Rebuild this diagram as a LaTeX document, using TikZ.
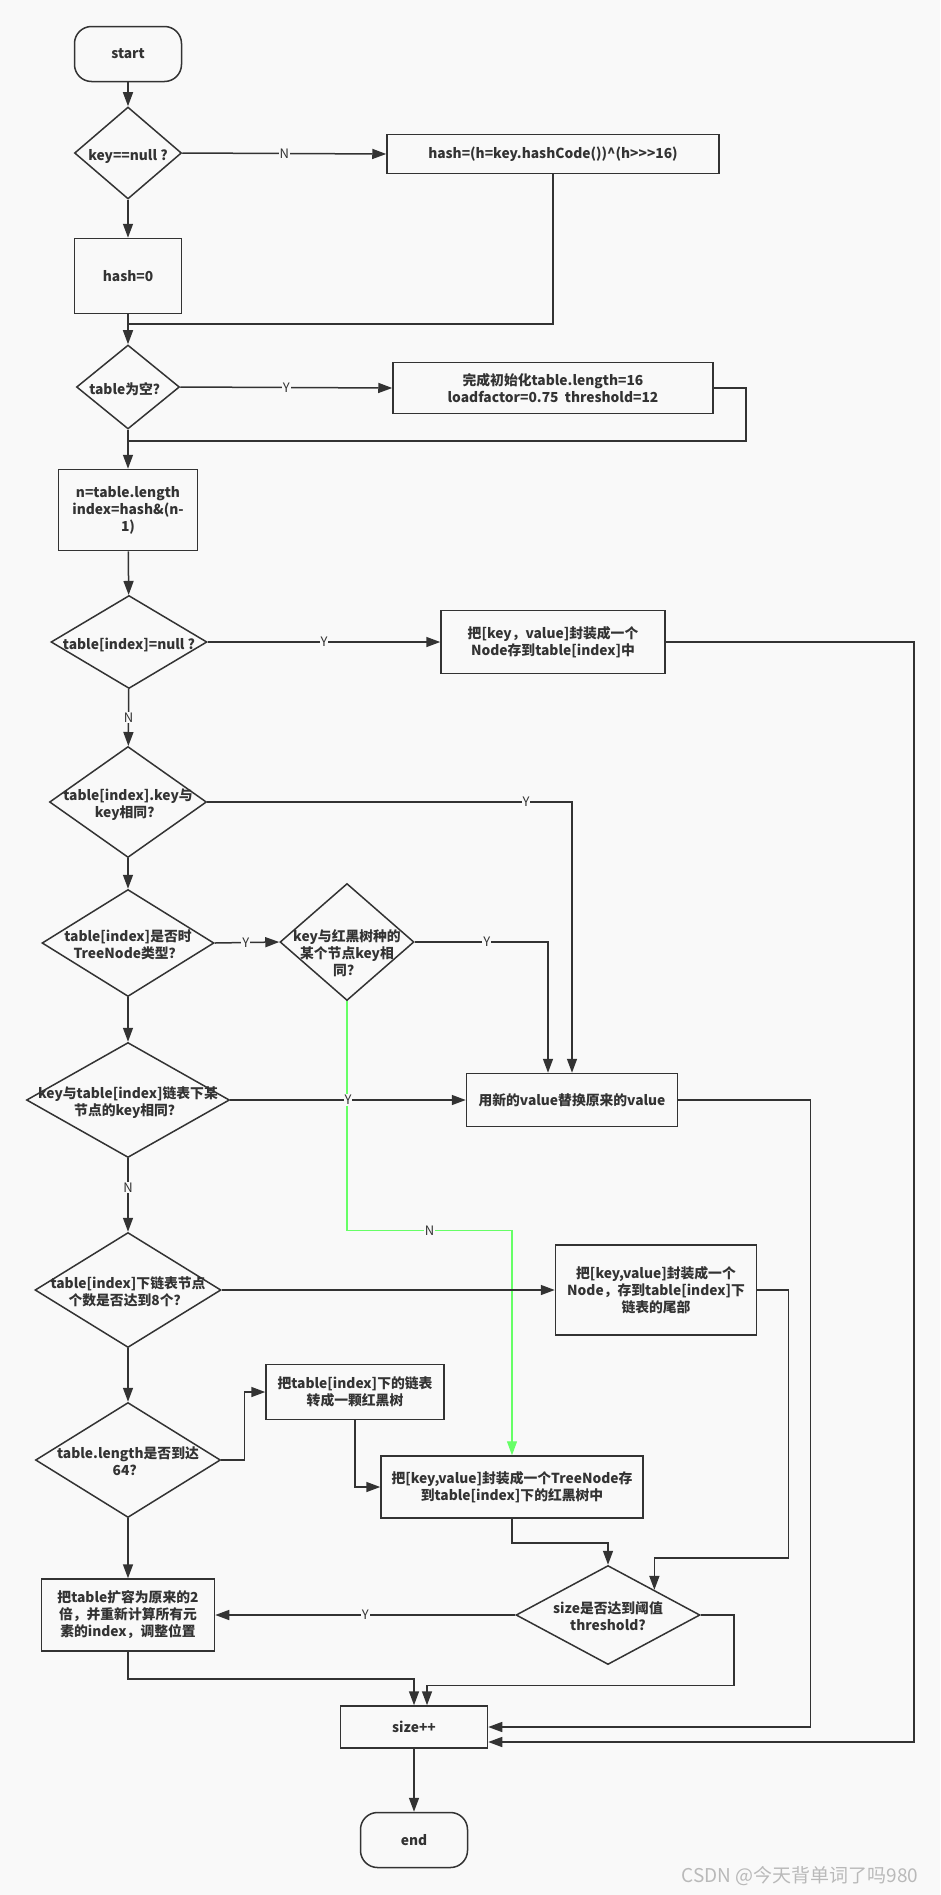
\documentclass[tikz,border=0pt]{standalone}
\usepackage{fontspec}
\setmainfont{Noto Sans CJK SC}[Ligatures=TeXOff]
\usetikzlibrary{shapes.geometric,arrows.meta}
\definecolor{bgpaper}{HTML}{F9F9F9}
\definecolor{inkline}{HTML}{333333}
\definecolor{nogreen}{HTML}{66FF66}
% text inside a diamond, kept out of the shape size
\newcommand{\dtxt}[2][0pt]{\makebox[0pt]{\raisebox{\dimexpr-0.55em-#1\relax}[0pt][0pt]{\begin{tabular}{@{}c@{}}#2\end{tabular}}}}
\begin{document}
\begin{tikzpicture}[x=1pt,y=-1pt]
\tikzstyle{every node}=[font=\fontsize{13.8}{17}\selectfont\bfseries, text=inkline]
\tikzstyle{terminal}=[draw=inkline, line width=1.5pt, rounded corners=17pt, minimum width=107pt, minimum height=55pt, inner sep=0pt]
\tikzstyle{process}=[draw=inkline, line width=1.5pt, align=center, inner sep=0pt]
\tikzstyle{decision}=[draw=inkline, line width=1.5pt, diamond, inner sep=0pt]
\tikzstyle{link}=[draw=inkline, line width=1.5pt]
\tikzstyle{flow}=[link, -{Triangle[length=14pt,width=10pt]}]
\tikzstyle{lbl}=[fill=bgpaper, inner sep=1pt, font=\fontsize{13}{15}\selectfont]
\fill [bgpaper] (0,0) rectangle (940,1895);
\useasboundingbox (0,0) rectangle (940,1895);
% left column
\node [terminal] (start) at (128,54) {start};
\node [decision, minimum width=107pt, minimum height=92pt] (keynull) at (128,153) {\dtxt{key==null ?}};
\node [process, minimum width=107pt, minimum height=75pt] (hashzero) at (128,276) {hash=0};
\node [decision, minimum width=103pt, minimum height=84pt] (tabempty) at (128,387) {\dtxt{table为空？}};
\node [process, minimum width=139pt, minimum height=81pt] (indexbox) at (128,510) {n=table.length\\index=hash\&(n-\\1)};
\node [decision, minimum width=156pt, minimum height=93pt] (slotnull) at (129,642) {\dtxt{table[index]=null ?}};
\node [decision, minimum width=157pt, minimum height=111pt] (samekey) at (128,802) {\dtxt{table[index].key与\\key相同？}};
\node [decision, minimum width=172pt, minimum height=107pt] (istree) at (128,943) {\dtxt{table[index]是否时\\TreeNode类型？}};
\node [decision, minimum width=203pt, minimum height=115pt] (listkey) at (128,1100) {\dtxt{key与table[index]链表下某\\节点的key相同？}};
\node [decision, minimum width=186pt, minimum height=115pt] (listeight) at (128,1290) {\dtxt{table[index]下链表节点\\个数是否达到8个？}};
\node [decision, minimum width=185pt, minimum height=115pt] (lensixfour) at (128,1460) {\dtxt{table.length是否到达\\64？}};
\node [process, minimum width=173pt, minimum height=72pt] (resize) at (128,1615) {把table扩容为原来的2\\倍，并重新计算所有元\\素的index，调整位置};
% right side
\node [process, minimum width=332pt, minimum height=39pt] (hashcode) at (553,154) {hash=(h=key.hashCode())\textasciicircum(h>>>16)};
\node [process, minimum width=320pt, minimum height=51pt] (initbox) at (553,388) {完成初始化table.length=16\\loadfactor=0.75\ \ threshold=12};
\node [process, minimum width=224pt, minimum height=63pt] (newslot) at (553,642) {把[key，value]封装成一个\\Node存到table[index]中};
\node [decision, minimum width=134pt, minimum height=117pt] (treekey) at (347,942) {\dtxt[9pt]{key与红黑树种的\\某个节点key相\\同？}};
\node [process, minimum width=211pt, minimum height=53pt] (replace) at (572,1100) {用新的value替换原来的value};
\node [process, minimum width=201pt, minimum height=90pt] (listtail) at (656,1290) {把[key,value]封装成一个\\Node，存到table[index]下\\链表的尾部};
\node [process, minimum width=178pt, minimum height=55pt] (treeify) at (355,1392) {把table[index]下的链表\\转成一颗红黑树};
\node [process, minimum width=262pt, minimum height=62pt] (treeput) at (512,1487) {把[key,value]封装成一个TreeNode存\\到table[index]下的红黑树中};
\node [decision, minimum width=184pt, minimum height=99pt] (sizecheck) at (608,1615) {\dtxt{size是否达到阈值\\threshold?}};
\node [process, minimum width=147pt, minimum height=42pt] (sizeinc) at (414,1727) {size++};
\node [terminal] (end) at (414,1840) {end};
\node [font=\fontsize{19}{21}\selectfont, text=gray!55] (mark) at (800,1876) {CSDN @今天背单词了吗980};
% join points
\coordinate (joinhash) at (128,324);
\coordinate (joininit) at (128,441);
\coordinate (replacein) at ([xshift=-24pt]replace.north);
\coordinate (sizeinlow) at ([yshift=-15pt]sizeinc.east);
\coordinate (sizeintop) at ([xshift=13pt]sizeinc.north);
% connectors
\draw [flow] (start) -- (keynull);
\draw [flow] (keynull.east) -- node [lbl] {N} (hashcode.west);
\draw [flow] (keynull) -- (hashzero);
\draw [link] (hashcode.south) |- (joinhash);
\draw [flow] (hashzero) -- (tabempty);
\draw [flow] (tabempty.east) -- node [lbl] {Y} (initbox.west);
\draw [link] (initbox.east) -- ++(32,0) |- (joininit);
\draw [flow] (tabempty) -- (indexbox);
\draw [flow] (indexbox) -- (slotnull);
\draw [flow] (slotnull.east) -- node [lbl] {Y} (newslot.west);
\draw [flow] (newslot.east) -- ++(248,0) |- (sizeinlow);
\draw [flow] (slotnull) -- node [lbl] {N} (samekey);
\draw [flow] (samekey.east) -| node [lbl, pos=0.437] {Y} (replace.north);
\draw [flow] (samekey) -- (istree);
\draw [flow] (istree.east) -- node [lbl, pos=0.48] {Y} (treekey.west);
\draw [flow] (treekey.east) -| node [lbl, pos=0.27] {Y} (replacein);
\draw [flow, draw=nogreen, line width=1.2pt] (treekey.south) -- ++(0,229) -| node [lbl, pos=0.25] {N} (treeput.north);
\draw [flow] (istree) -- (listkey);
\draw [flow] (listkey.east) -- node [lbl] {Y} (replace.west);
\draw [flow] (replace.east) -- ++(132,0) |- (sizeinc.east);
\draw [flow] (listkey) -- node [lbl, pos=0.4] {N} (listeight);
\draw [flow] (listeight.east) -- (listtail.west);
\draw [flow] (listtail.east) -- ++(31,0) |- ([yshift=32pt]sizecheck.north east) -- (sizecheck.north east);
\draw [flow] (listeight) -- (lensixfour);
\draw [flow] (lensixfour.east) -- ++(23,0) |- (treeify.west);
\draw [flow] (treeify.south) |- (treeput.west);
\draw [flow] (treeput.south) -- ++(0,24) -| (sizecheck.north);
\draw [flow] (lensixfour) -- (resize);
\draw [flow] (sizecheck.west) -- node [lbl] {Y} (resize.east);
\draw [flow] (resize.south) -- ++(0,27) -| (sizeinc.north);
\draw [flow] (sizecheck.east) -- ++(33,0) |- ([yshift=20pt]sizeintop) -- (sizeintop);
\draw [flow] (sizeinc) -- (end);
\end{tikzpicture}
\end{document}
